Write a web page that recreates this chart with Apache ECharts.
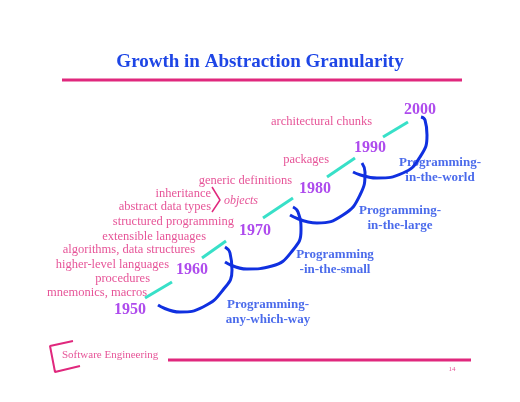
<!DOCTYPE html>
<html>
<head>
<meta charset="utf-8">
<script src="https://cdn.jsdelivr.net/npm/echarts@6/dist/echarts.min.js"></script>
<style>html,body{margin:0;background:#fff}#main{width:520px;height:402px}</style>
</head>
<body>
<div id="main"></div>
<script>
// slide drawn on a 520x402 value grid (y axis inverted)
const years = ['1950', '1960', '1970', '1980', '1990', '2000'];
const yearPos = [[130, 310], [192, 270], [255, 231], [315, 189], [370, 148], [420, 110]];

const dashes = [
  [[145, 298], [172, 282]],
  [[202, 258], [226, 241]],
  [[263, 218], [293, 198]],
  [[327, 177], [355, 158]],
  [[383, 137], [408, 122]]
];

const arcs = [
  [[158, 305], [180, 312], [203, 307], [223, 290], [232, 270], [230, 253], [225, 247]],
  [[225, 262], [247, 269], [272, 266], [293, 250], [301, 230], [298, 212], [293, 207]],
  [[290, 215], [317, 223], [343, 215], [360, 195], [365, 172], [362, 163]],
  [[353, 172], [377, 178], [403, 173], [420, 157], [427, 135], [425, 120], [421, 117]]
];

const eras = ['Programming-\nany-which-way', 'Programming\n-in-the-small', 'Programming-\nin-the-large', 'Programming-\nin-the-world'];
const eraPos = [[268, 312], [335, 262], [400, 218], [440, 170]];

const concepts = ['architectural chunks', 'packages', 'generic definitions', 'inheritance', 'abstract data types',
  'structured programming', 'extensible languages', 'algorithms, data structures', 'higher-level languages',
  'procedures', 'mnemonics, macros'];
const conceptPos = [[372, 122], [329, 160], [292, 181], [211, 194], [211, 207], [234, 222], [206, 237],
  [195, 250], [169, 265], [150, 279], [147, 293]];

const pink = '#e0287d', blue = '#1e46e6', purple = '#9a1ee8', cyan = '#38e0c8';
const serif = '"Liberation Serif", serif';

function lineSeries(pts, color, width, smooth) {
  return { type: 'line', data: pts, symbol: 'none', smooth: smooth || false, silent: true,
    lineStyle: { color: color, width: width } };
}
function textSeries(names, pos, style, align) {
  return { type: 'scatter', symbolSize: 0, silent: true,
    data: names.map((n, i) => ({ value: pos[i], name: n })),
    label: Object.assign({ show: true, position: [0, 0], align: align, verticalAlign: 'middle',
      formatter: p => p.name, fontFamily: serif }, style) };
}

const series = [
  lineSeries([[62, 80], [462, 80]], pink, 3),
  lineSeries([[168, 360], [471, 360]], pink, 3),
  lineSeries([[73, 341], [50, 346], [55, 372], [80, 366]], pink, 2),
  lineSeries([[212, 187], [220, 200], [212, 212]], pink, 1.5)
];
dashes.forEach(d => series.push(lineSeries(d, cyan, 3)));
arcs.forEach(a => series.push(lineSeries(a, '#1030e0', 3, 0.5)));
series.push(textSeries(years, yearPos, { color: purple, fontSize: 16, fontWeight: 'bold' }, 'center'));
series.push(textSeries(eras, eraPos, { color: blue, fontSize: 13, fontWeight: 'bold', lineHeight: 15 }, 'center'));
series.push(textSeries(concepts, conceptPos, { color: pink, fontSize: 12.5 }, 'right'));
series.push(textSeries(['objects'], [[224, 201]], { color: pink, fontSize: 12, fontStyle: 'italic' }, 'left'));
series.push(textSeries(['Software Engineering'], [[62, 355]], { color: pink, fontSize: 11 }, 'left'));
series.push(textSeries(['14'], [[452, 369]], { color: pink, fontSize: 7 }, 'center'));

const chart = echarts.init(document.getElementById('main'));
chart.setOption({
  animation: false,
  title: { text: 'Growth in Abstraction Granularity', left: 'center', top: 48,
    textStyle: { color: blue, fontSize: 19, fontWeight: 'bold', fontFamily: serif } },
  grid: { left: 0, right: 0, top: 0, bottom: 0 },
  xAxis: { type: 'value', min: 0, max: 520, show: false },
  yAxis: { type: 'value', min: 0, max: 402, inverse: true, show: false },
  series: series
});
</script>
</body>
</html>
